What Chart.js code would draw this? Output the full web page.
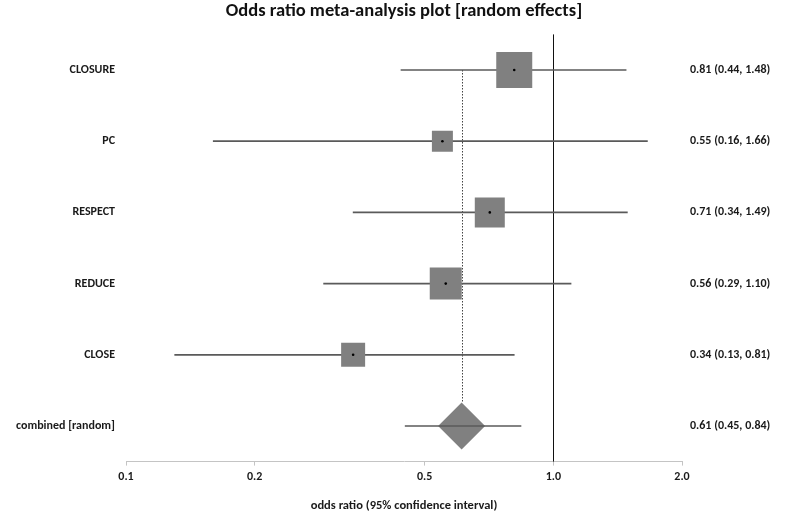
<!DOCTYPE html>
<html>
<head>
<meta charset="utf-8">
<script src="https://cdn.jsdelivr.net/npm/chart.js@4"></script>
<style>
  body { margin: 0; background: #fff; }
</style>
</head>
<body>
<canvas id="forest" width="785" height="518"></canvas>
<script>
// data
const studies = ["CLOSURE", "PC", "RESPECT", "REDUCE", "CLOSE"];
const oddsRatio = [0.81, 0.55, 0.71, 0.56, 0.34];
const ciLow = [0.44, 0.16, 0.34, 0.29, 0.13];
const ciHigh = [1.48, 1.66, 1.49, 1.10, 0.81];
const pooledLabel = "combined [random]";
const pooledOR = [0.61];
const pooledLow = [0.45];
const pooledHigh = [0.84];
const xTicks = [0.1, 0.2, 0.5, 1.0, 2.0];

// box side in px (study weight), purely visual
const boxSide = [36, 21, 30, 32, 24];
const diamondR = 23.5;

const rows = studies.map((s, i) => i);
const pooledRow = studies.length;
const leftLabels = studies.concat([pooledLabel]);
const fmt = (v) => v.toFixed(2);
const rightLabels = studies.map((s, i) => `${fmt(oddsRatio[i])} (${fmt(ciLow[i])}, ${fmt(ciHigh[i])})`)
  .concat([`${fmt(pooledOR[0])} (${fmt(pooledLow[0])}, ${fmt(pooledHigh[0])})`]);

const FONT = "Carlito, Lato, 'Open Sans', sans-serif";

const refLines = {
  id: "refLines",
  beforeDatasetsDraw(chart) {
    const { ctx, chartArea, scales: { x, y } } = chart;
    ctx.save();
    ctx.lineWidth = 1;
    // line of no effect
    const x1 = Math.round(x.getPixelForValue(1)) + 0.5;
    ctx.strokeStyle = "#111";
    ctx.beginPath();
    ctx.moveTo(x1, chartArea.top);
    ctx.lineTo(x1, chartArea.bottom);
    ctx.stroke();
    // dotted line at the pooled estimate
    const xp = Math.round(x.getPixelForValue(pooledOR[0])) + 0.5;
    ctx.strokeStyle = "#444";
    ctx.setLineDash([1.5, 1.5]);
    ctx.beginPath();
    ctx.moveTo(xp, y.getPixelForValue(0));
    ctx.lineTo(xp, y.getPixelForValue(pooledRow) - diamondR);
    ctx.stroke();
    ctx.restore();
  }
};

const rowAxis = (labels, pos, width, pad) => ({
  type: "linear",
  position: pos,
  min: -0.5,
  max: 5.5,
  reverse: true,
  offset: false,
  afterBuildTicks: (s) => { s.ticks = labels.map((l, i) => ({ value: i })); },
  afterFit: (s) => { s.width = width; },
  grid: { display: false, drawTicks: false, tickLength: 0 },
  border: { display: false },
  ticks: {
    padding: pad,
    crossAlign: "near",
    color: "#1a1a1a",
    font: { family: FONT, size: 12, weight: "bold" },
    callback: (v) => labels[v],
  },
});

const ctx = document.getElementById("forest").getContext("2d");
const forest = new Chart(ctx, {
  data: {
    datasets: [
      {
        type: "bar",
        indexAxis: "y",
        grouped: false,
        order: 5,
        data: rows.map((i) => ({ x: [ciLow[i], ciHigh[i]], y: i })),
        backgroundColor: "#5a5a5a",
        barThickness: 1,
        borderWidth: 0,
      },
      {
        type: "scatter",
        order: 4,
        data: rows.map((i) => ({ x: oddsRatio[i], y: i })),
        pointStyle: "rect",
        pointRadius: (c) => boxSide[c.dataIndex] / Math.SQRT2,
        backgroundColor: "#808080",
        borderWidth: 0,
      },
      {
        type: "scatter",
        order: 3,
        data: rows.map((i) => ({ x: oddsRatio[i], y: i })),
        pointRadius: 1.3,
        backgroundColor: "#000",
        borderWidth: 0,
      },
      {
        type: "scatter",
        order: 2,
        data: [{ x: pooledOR[0], y: pooledRow }],
        pointStyle: "rectRot",
        pointRadius: diamondR,
        backgroundColor: "#808080",
        borderWidth: 0,
      },
      {
        type: "bar",
        indexAxis: "y",
        grouped: false,
        order: 1,
        data: [{ x: [pooledLow[0], pooledHigh[0]], y: pooledRow }],
        backgroundColor: "#5a5a5a",
        barThickness: 1,
        borderWidth: 0,
      },
    ],
  },
  options: {
    responsive: false,
    animation: false,
    layout: { padding: 0 },
    plugins: {
      legend: { display: false },
      tooltip: { enabled: false },
    },
    scales: {
      x: {
        type: "logarithmic",
        min: 0.1,
        max: 2,
        afterBuildTicks: (s) => { s.ticks = xTicks.map((v) => ({ value: v })); },
        afterFit: (s) => { s.height = 56.4; },
        grid: { display: true, drawOnChartArea: false, drawTicks: true, tickLength: 4, color: "#c4c4c4" },
        border: { display: true, color: "#c4c4c4", width: 1 },
        ticks: {
          padding: 4,
          color: "#1a1a1a",
          font: { family: FONT, size: 12, weight: "bold" },
          callback: (v) => Number(v).toFixed(1),
          maxRotation: 0,
        },
        title: {
          display: true,
          text: "odds ratio (95% confidence interval)",
          color: "#1a1a1a",
          font: { family: FONT, size: 12.5, weight: "bold" },
          padding: { top: 0, bottom: 5 },
        },
      },
      // top axis only carries the chart title, centred over the plot
      xTop: {
        type: "logarithmic",
        position: "top",
        min: 0.1,
        max: 2,
        afterFit: (s) => { s.height = 34.4; },
        grid: { display: false, drawTicks: false },
        border: { display: false },
        ticks: { display: false },
        title: {
          display: true,
          text: "Odds ratio meta-analysis plot [random effects]",
          color: "#111",
          font: { family: FONT, size: 18.5, weight: "bold" },
          padding: { top: 0.5, bottom: 0 },
        },
      },
      y: rowAxis(leftLabels, "left", 126, 11),
      y2: rowAxis(rightLabels, "right", 103, 8),
    },
  },
  plugins: [refLines],
});
</script>
</body>
</html>
